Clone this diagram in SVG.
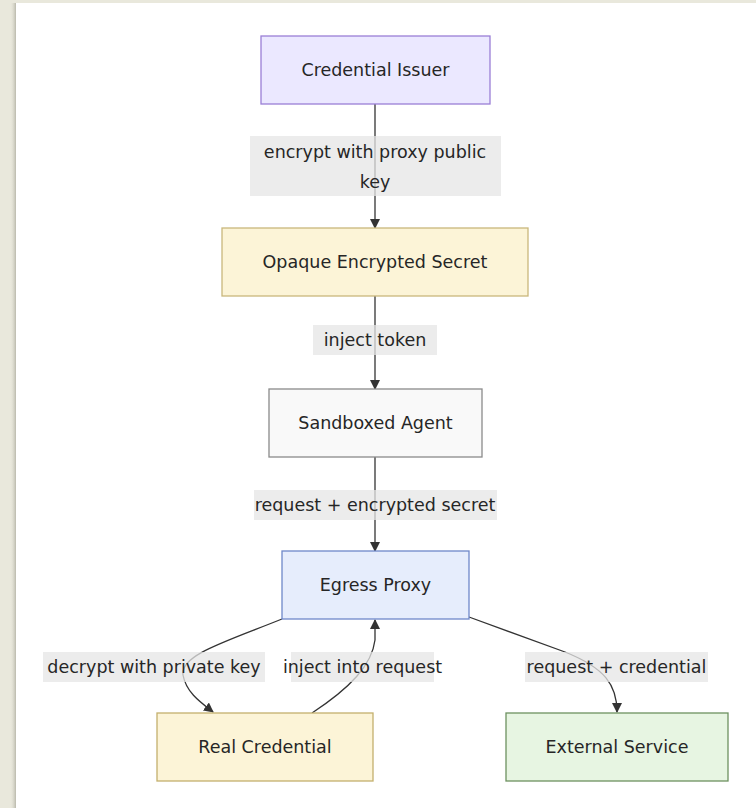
<svg xmlns="http://www.w3.org/2000/svg" width="756" height="808" viewBox="0 0 756 808">
  <defs>
    <linearGradient id="edgeShade" x1="0" y1="0" x2="1" y2="0">
      <stop offset="0" stop-color="#e9e8dc" stop-opacity="0"/>
      <stop offset="1" stop-color="#b9b8ab"/>
    </linearGradient>
    <marker id="arrow" viewBox="0 0 10 10" refX="9" refY="5" markerWidth="10" markerHeight="10" markerUnits="userSpaceOnUse" orient="auto">
      <path d="M0,0 L10,5 L0,10 z" fill="#333"/>
    </marker>
  </defs>
  <style>
    .node rect { stroke-width: 1.3; }
    .node text, .label text { font-family: "DejaVu Sans", "Noto Sans", sans-serif; font-size: 17.5px; fill: #262626; text-anchor: middle; dominant-baseline: central; }
    .label rect { fill: #e6e6e6; fill-opacity: 0.75; }
    .edge { fill: none; stroke: #333; stroke-width: 1.3; marker-end: url(#arrow); }
  </style>

  <!-- page background and card -->
  <rect x="0" y="0" width="756" height="808" fill="#e9e8dc"/>
  <rect x="10" y="3" width="6" height="805" fill="url(#edgeShade)"/>
  <rect x="16" y="3" width="740" height="805" fill="#ffffff"/>

  <!-- connectors -->
  <g id="connectors">
    <path class="edge" d="M375,104 L375,228"/>
    <path class="edge" d="M375,296 L375,389"/>
    <path class="edge" d="M375,457 L375,551"/>
    <path class="edge" d="M282,619 C225,642 180,655 183,675 C186,692 200,702 213,712"/>
    <path class="edge" d="M312,713 C350,688 372,665 375,640 L375,620"/>
    <path class="edge" d="M469,617 L565,652 C605,668 617,685 617,712"/>
  </g>

  <!-- edge labels -->
  <g class="label" id="label-encrypt">
    <rect x="250" y="136" width="251" height="60"/>
    <text x="375" y="152">encrypt with proxy public</text>
    <text x="375" y="182">key</text>
  </g>
  <g class="label" id="label-inject-token">
    <rect x="313" y="325" width="124" height="30"/>
    <text x="375" y="340">inject token</text>
  </g>
  <g class="label" id="label-request-secret">
    <rect x="254" y="490" width="243" height="30"/>
    <text x="375" y="505">request + encrypted secret</text>
  </g>
  <g class="label" id="label-decrypt">
    <rect x="43" y="652" width="222" height="30"/>
    <text x="154" y="667">decrypt with private key</text>
  </g>
  <g class="label" id="label-inject-request">
    <rect x="291" y="652" width="143" height="30"/>
    <text x="362.5" y="667">inject into request</text>
  </g>
  <g class="label" id="label-request-credential">
    <rect x="525" y="652" width="183" height="30"/>
    <text x="616.5" y="667">request + credential</text>
  </g>

  <!-- nodes -->
  <g class="node" id="credential-issuer">
    <rect x="261" y="36" width="229" height="68" fill="#ebe8ff" stroke="#9a7fd6"/>
    <text x="375.5" y="70">Credential Issuer</text>
  </g>
  <g class="node" id="opaque-secret">
    <rect x="222" y="228" width="306" height="68" fill="#fcf4d7" stroke="#c9b77c"/>
    <text x="375" y="262">Opaque Encrypted Secret</text>
  </g>
  <g class="node" id="sandboxed-agent">
    <rect x="269" y="389" width="213" height="68" fill="#f9f9f9" stroke="#8a8a8a"/>
    <text x="375.5" y="423">Sandboxed Agent</text>
  </g>
  <g class="node" id="egress-proxy">
    <rect x="282" y="551" width="187" height="68" fill="#e6edfc" stroke="#6f88c9"/>
    <text x="375.5" y="585">Egress Proxy</text>
  </g>
  <g class="node" id="real-credential">
    <rect x="157" y="713" width="216" height="68" fill="#fcf4d7" stroke="#c4b06d"/>
    <text x="265" y="747">Real Credential</text>
  </g>
  <g class="node" id="external-service">
    <rect x="506" y="713" width="222" height="68" fill="#e7f5e2" stroke="#6d9160"/>
    <text x="617" y="747">External Service</text>
  </g>
</svg>
